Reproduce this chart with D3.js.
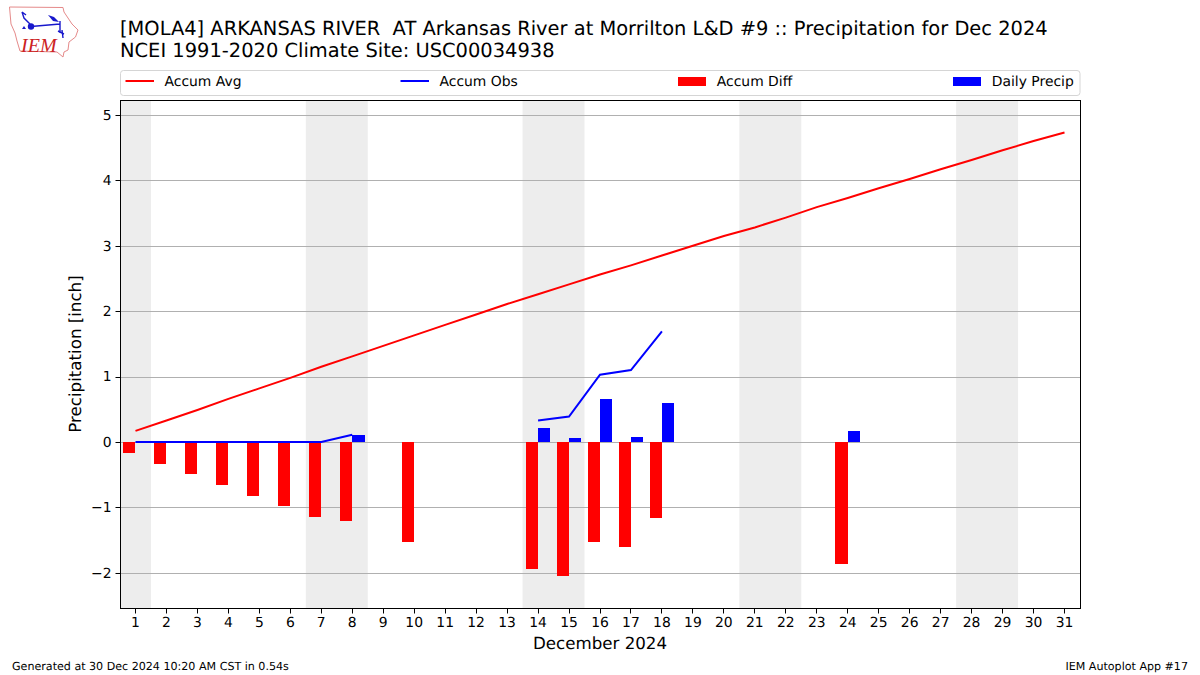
<!DOCTYPE html>
<html><head><meta charset="utf-8">
<script src="https://cdn.jsdelivr.net/npm/d3@7"></script>
<style>
html,body{margin:0;padding:0;background:#fff}
svg{display:block}
text{font-family:"DejaVu Sans",sans-serif;fill:#000;text-rendering:geometricPrecision}
</style></head><body>
<svg id="c" width="1200" height="675"></svg>
<script>
const days = d3.range(1, 32);
const accumAvg = [0.17,0.33,0.49,0.66,0.82,0.98,1.15,1.31,1.47,1.63,1.79,1.95,2.11,2.26,2.41,2.56,2.70,2.85,3.00,3.15,3.28,3.43,3.59,3.73,3.88,4.02,4.17,4.31,4.46,4.60,4.73];
const accumObs = [0,0,0,0,0,0,0,0.11,null,null,null,null,null,0.33,0.39,1.03,1.10,1.69,null,null,null,null,null,null,null,null,null,null,null,null,null];
const accumDiff = [-0.17,-0.33,-0.49,-0.66,-0.83,-0.98,-1.15,-1.21,null,-1.53,null,null,null,-1.94,-2.04,-1.53,-1.61,-1.16,null,null,null,null,null,-1.87,null,null,null,null,null,null,null];
const dailyPrecip = [0,0,0,0,0,0,0,0.11,0,0,0,0,0,0.21,0.06,0.66,0.08,0.60,0,0,0,0,0,0.17,0,0,0,0,0,0,0];
const weekends = [[0.5,1.5],[6.5,8.5],[13.5,15.5],[20.5,22.5],[27.5,29.5]];
const yTicks = [-2,-1,0,1,2,3,4,5];
const titleLines = ["[MOLA4] ARKANSAS RIVER  AT Arkansas River at Morrilton L&D #9 :: Precipitation for Dec 2024","NCEI 1991-2020 Climate Site: USC00034938"];
const legendItems = [["Accum Avg","line","#f00"],["Accum Obs","line","#00f"],["Accum Diff","bar","#f00"],["Daily Precip","bar","#00f"]];
const xLabel = "December 2024", yLabel = "Precipitation [inch]";
const footLeft = "Generated at 30 Dec 2024 10:20 AM CST in 0.54s", footRight = "IEM Autoplot App #17";

const svg = d3.select("#c");
const L=120,R=1080,T=100,B=608;
const x = d3.scaleLinear().domain([0.5,31.5]).range([L,R]);
const y = d3.scaleLinear().domain([-2,5]).range([573.3,115.3]);
const ym = v=>y(v)-0.4;
const snap = v=>Math.floor(v)+0.5;
const g = svg.append("g");

g.selectAll("rect.w").data(weekends).join("rect").attr("class","w")
 .attr("x",d=>x(d[0])).attr("width",d=>x(d[1])-x(d[0])).attr("y",T).attr("height",B-T).attr("fill","#ededed");

g.selectAll("line.grid").data(yTicks).join("line").attr("class","grid")
 .attr("x1",L).attr("x2",R).attr("y1",d=>snap(y(d))).attr("y2",d=>snap(y(d))).attr("stroke","#b0b0b0").attr("stroke-width",1.1);

const bw = 0.4;
const diffs = days.map((d,i)=>[d,accumDiff[i]]).filter(d=>d[1]!==null);
g.selectAll("rect.diff").data(diffs).join("rect").attr("class","diff").attr("shape-rendering","crispEdges")
 .attr("x",d=>x(d[0]-bw)).attr("width",x(bw)-x(0)).attr("y",ym(0)).attr("height",d=>ym(d[1])-ym(0)).attr("fill","#f00");
const daily = days.map((d,i)=>[d,dailyPrecip[i]]).filter(d=>d[1]>0);
g.selectAll("rect.daily").data(daily).join("rect").attr("class","daily").attr("shape-rendering","crispEdges")
 .attr("x",d=>x(d[0])).attr("width",x(bw)-x(0)).attr("y",d=>ym(d[1])).attr("height",d=>ym(0)-ym(d[1])).attr("fill","#00f");

const line = d3.line().defined(d=>d[1]!==null).x(d=>x(d[0])).y(d=>ym(d[1]));
g.append("path").attr("d",line(days.map((d,i)=>[d,accumAvg[i]]))).attr("fill","none").attr("stroke","#f00").attr("stroke-width",2);
g.append("path").attr("d",line(days.map((d,i)=>[d,accumObs[i]]))).attr("fill","none").attr("stroke","#00f").attr("stroke-width",2);

g.append("rect").attr("x",L+0.5).attr("y",T+0.5).attr("width",R-L).attr("height",B-T).attr("fill","none").attr("stroke","#000").attr("stroke-width",1);

// axes
const xa = g.append("g").attr("transform",`translate(0,${B+0.5})`).call(d3.axisBottom(x).tickValues(days).tickFormat(d3.format("d")).tickSize(5).tickPadding(4).offset(0));
const ya = g.append("g").attr("transform",`translate(${L+0.5},0)`).call(d3.axisLeft(y).tickValues(yTicks).tickFormat(d=>d<0?"\u2212"+(-d):d).tickSize(5).tickPadding(4).offset(0));
xa.selectAll(".tick line").attr("x1",d=>snap(x(d))-x(d)).attr("x2",d=>snap(x(d))-x(d));
ya.selectAll(".tick line").attr("y1",d=>snap(y(d))-y(d)).attr("y2",d=>snap(y(d))-y(d));
[xa,ya].forEach(a=>{a.select(".domain").remove();a.selectAll("text").style("font-family",'"DejaVu Sans"').style("font-size","13.9px").attr("fill","#000");a.selectAll("line").attr("stroke","#000");});

g.append("text").attr("x",600).attr("y",649).attr("text-anchor","middle").style("font-size","16.67px").text(xLabel);
g.append("text").attr("transform","translate(81,354) rotate(-90)").attr("text-anchor","middle").style("font-size","16.67px").text(yLabel);

titleLines.forEach((t,i)=>svg.append("text").attr("x",120).attr("y",35+i*22).attr("xml:space","preserve").style("white-space","pre").style("font-size","19.44px").text(t));

// legend
svg.append("rect").attr("x",120.5).attr("y",70.5).attr("width",959.5).attr("height",25).attr("rx",3).attr("fill","#fff").attr("stroke","#d5d5d5");
const lx=[125.5,400.5,678,953];
legendItems.forEach((it,i)=>{
  const X=lx[i];
  if(it[1]==="line") svg.append("line").attr("x1",X).attr("x2",X+28.5).attr("y1",81).attr("y2",81).attr("stroke",it[2]).attr("stroke-width",2);
  else svg.append("rect").attr("x",X).attr("y",77).attr("width",28).attr("height",9).attr("fill",it[2]);
  svg.append("text").attr("x",X+(it[1]==="line"?39:38.8)).attr("y",86).style("font-size","13.9px").text(it[0]);
});

svg.append("text").attr("x",12).attr("y",670).style("font-size","11.1px").text(footLeft);
svg.append("text").attr("x",1188).attr("y",670).attr("text-anchor","end").style("font-size","11.1px").text(footRight);

// logo
const logo = svg.append("g");
logo.append("path").attr("d","M9.5 7 L63 7.5 L64 12 L68 18 L72 24 L78 30 L75.5 37 L69 42 L68 50 L64 52 L63 57 L57 52 L20 51 L17 41 L15 33 L11 24 Z").attr("fill","#fff").attr("stroke","#e58a8a").attr("stroke-width",1);
logo.append("path").attr("d","M31 26.5 L60 24 M60 21 L60 33 M22 12 L24 18 L30 24 M22 12 L26 15 M58 31 L64 34 M62 30 L63 38").attr("stroke","#1818cc").attr("stroke-width",1.4).attr("fill","none");
logo.append("circle").attr("cx",31).attr("cy",26.5).attr("r",3.2).attr("fill","#1818cc");
logo.append("path").attr("d","M48 15 L54 17 L59 22 L53 21 Z").attr("fill","#1818cc");
logo.append("path").attr("d","M22 29 L26 29 L24 26 Z").attr("fill","#1818cc");
logo.append("text").attr("x",21).attr("y",52).style("font-family",'"Liberation Serif"').style("font-style","italic").style("font-size","20px").style("fill","#cc2222").text("IEM");
</script></body></html>
